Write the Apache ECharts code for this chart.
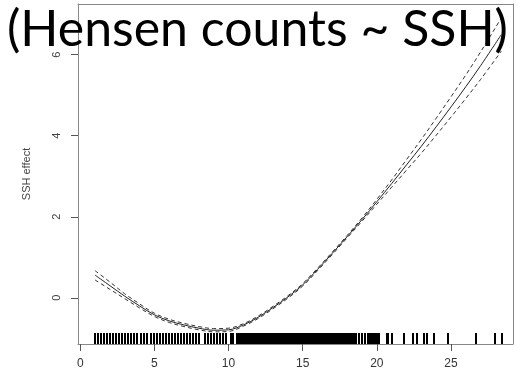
<!DOCTYPE html>
<html>
<head>
<meta charset="utf-8">
<script src="https://cdn.jsdelivr.net/npm/echarts@6/dist/echarts.min.js"></script>
<style>
  html, body { margin: 0; padding: 0; background: #fff; }
  #chart { width: 518px; height: 375px; }
</style>
</head>
<body>
<div id="chart"></div>
<script>
// Smooth term for SSH: fitted effect with upper/lower confidence bounds
var ssh   = [1, 2, 3, 4, 5, 6, 7, 8, 9, 10, 11, 12, 13, 14, 15, 16, 17, 18, 19, 20, 21, 22, 23, 24, 25, 26, 27, 28.4];
var fit   = [0.56, 0.30, 0.04, -0.20, -0.42, -0.57, -0.67, -0.75, -0.80, -0.79, -0.67, -0.48, -0.24, 0.02, 0.32, 0.70, 1.10, 1.51, 1.93, 2.37, 2.82, 3.28, 3.74, 4.22, 4.71, 5.21, 5.73, 6.50];
var upper = [0.67, 0.39, 0.10, -0.15, -0.38, -0.53, -0.63, -0.71, -0.76, -0.75, -0.64, -0.45, -0.21, 0.05, 0.35, 0.73, 1.13, 1.54, 1.97, 2.43, 2.91, 3.41, 3.91, 4.43, 4.96, 5.50, 6.07, 6.91];
var lower = [0.44, 0.21, -0.02, -0.25, -0.46, -0.61, -0.71, -0.79, -0.84, -0.83, -0.70, -0.51, -0.27, -0.01, 0.29, 0.67, 1.07, 1.48, 1.89, 2.31, 2.73, 3.15, 3.57, 4.01, 4.46, 4.92, 5.39, 6.09];

// Observed SSH values shown as a rug along the bottom
var rug = [
  1.00, 1.20, 1.41, 1.60, 1.79, 2.00, 2.22, 2.40, 2.61, 2.80, 3.01, 3.20, 3.42, 3.61, 3.80, 4.12, 4.32, 4.50,
  4.80, 5.00, 5.20, 5.41, 5.60, 5.81, 6.00, 6.21, 6.40, 6.61, 6.80, 7.00, 7.21, 7.40, 7.60, 7.81, 8.02, 8.40,
  8.60, 8.80, 9.00, 9.21, 9.40, 9.60, 9.80, 10.15, 10.30,
  10.55, 10.63, 10.72, 10.80, 10.89, 10.97, 11.06, 11.14, 11.23, 11.31, 11.40, 11.48, 11.57, 11.65, 11.74,
  11.82, 11.91, 11.99, 12.08, 12.16, 12.25, 12.33, 12.42, 12.50, 12.59, 12.67, 12.76, 12.84, 12.93, 13.01,
  13.10, 13.18, 13.27, 13.35, 13.44, 13.52, 13.61, 13.69, 13.78, 13.86, 13.95, 14.03, 14.12, 14.20, 14.29,
  14.37, 14.46, 14.54, 14.63, 14.71, 14.80, 14.88, 14.97, 15.05, 15.14, 15.22, 15.31, 15.39, 15.48, 15.56,
  15.65, 15.73, 15.82, 15.90, 15.99, 16.07, 16.16, 16.24, 16.33, 16.41, 16.50, 16.58, 16.67, 16.75, 16.84,
  16.92, 17.01, 17.09, 17.18, 17.26, 17.35, 17.43, 17.52, 17.60, 17.69, 17.77, 17.86, 17.94, 18.03, 18.11,
  18.20, 18.28, 18.37, 18.45, 18.54, 18.60,
  18.80, 19.00, 19.22, 19.38, 19.55, 19.63, 19.72, 19.85, 20.00, 20.10, 20.16,
  20.68, 20.74, 21.05, 21.83, 22.46, 22.68, 23.18, 23.40, 23.86, 24.80, 26.68, 27.95, 28.41
];

var xTicks = [0, 5, 10, 15, 20, 25];
var yTicks = [0, 2, 4, 6];

var xMin = -0.15, xMax = 29.18;
var yMin = -1.14, yMax = 7.25;

function pairs(xs, ys) {
  return xs.map(function (x, i) { return [x, ys[i]]; });
}

var chart = echarts.init(document.getElementById('chart'), null, { renderer: 'canvas' });

var boxLine = { show: true, onZero: false, lineStyle: { color: '#888', width: 1 } };

var lineBase = {
  type: 'line',
  smooth: 0.35,
  symbol: 'none',
  silent: true,
  z: 3
};

chart.setOption({
  animation: false,
  backgroundColor: '#ffffff',
  title: {
    text: '(Hensen counts ~ SSH)',
    left: 2,
    top: 0,
    textStyle: {
      fontFamily: 'Lato',
      fontWeight: 'normal',
      fontSize: 50,
      color: '#000'
    },
    z: 10
  },
  grid: {
    left: 78, top: 4, width: 435, height: 340
  },
  xAxis: [{
    type: 'value',
    min: xMin, max: xMax,
    position: 'bottom',
    axisLine: boxLine,
    splitLine: { show: false },
    axisTick: {
      show: true, length: 7, inside: false,
      customValues: xTicks,
      lineStyle: { color: '#555', width: 1 }
    },
    axisLabel: {
      customValues: xTicks,
      margin: 14,
      fontFamily: 'Liberation Sans',
      fontSize: 12,
      color: '#333'
    }
  }, {
    type: 'value',
    min: xMin, max: xMax,
    position: 'top',
    axisLine: boxLine,
    axisTick: { show: false },
    axisLabel: { show: false },
    splitLine: { show: false }
  }],
  yAxis: [{
    type: 'value',
    min: yMin, max: yMax,
    position: 'left',
    name: 'SSH effect',
    nameLocation: 'middle',
    nameGap: 46,
    nameRotate: 90,
    nameTextStyle: { fontFamily: 'Liberation Sans', fontSize: 11, color: '#444' },
    axisLine: boxLine,
    splitLine: { show: false },
    axisTick: {
      show: true, length: 7,
      customValues: yTicks,
      lineStyle: { color: '#555', width: 1 }
    },
    axisLabel: {
      customValues: yTicks,
      rotate: 90,
      margin: 16,
      fontFamily: 'Liberation Sans',
      fontSize: 11,
      color: '#444'
    }
  }, {
    type: 'value',
    min: yMin, max: yMax,
    position: 'right',
    axisLine: boxLine,
    axisTick: { show: false },
    axisLabel: { show: false },
    splitLine: { show: false }
  }],
  series: [
    Object.assign({}, lineBase, {
      name: 'fit',
      data: pairs(ssh, fit),
      lineStyle: { color: '#222', width: 1, type: 'solid' }
    }),
    Object.assign({}, lineBase, {
      name: 'upper',
      data: pairs(ssh, upper),
      lineStyle: { color: '#333', width: 1, type: [4, 3] }
    }),
    Object.assign({}, lineBase, {
      name: 'lower',
      data: pairs(ssh, lower),
      lineStyle: { color: '#333', width: 1, type: [4, 3] }
    }),
    {
      name: 'rug',
      type: 'custom',
      silent: true,
      z: 2,
      data: rug.map(function (v) { return [v]; }),
      renderItem: function (params, api) {
        var p = api.coord([api.value(0), yMin]);
        var x = Math.round(p[0]);
        return {
          type: 'line',
          shape: { x1: x, y1: p[1], x2: x, y2: p[1] - 11 },
          style: { stroke: '#000', lineWidth: 2 }
        };
      }
    }
  ]
});
</script>
</body>
</html>
